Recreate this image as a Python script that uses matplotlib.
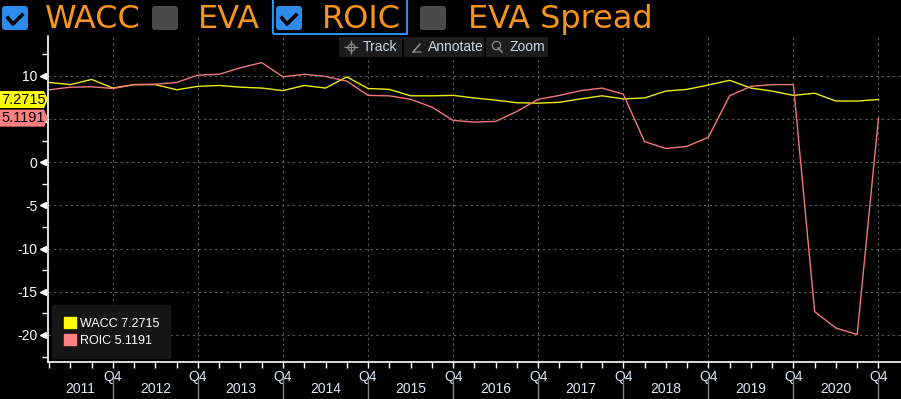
import numpy as np
import matplotlib
matplotlib.use("Agg")
import matplotlib.pyplot as plt
from matplotlib.patches import FancyBboxPatch, Rectangle, Polygon, Patch
from matplotlib.transforms import IdentityTransform, blended_transform_factory
from matplotlib.lines import Line2D

plt.rcParams['font.family'] = ['Liberation Sans', 'DejaVu Sans']
plt.rcParams['axes.unicode_minus'] = False

# quarterly data, 2011 Q1 .. 2020 Q4
years = list(range(2011, 2021))
quarters = np.arange(40)
wacc = [9.25, 9.0, 9.6, 8.6, 9.0, 9.0, 8.4, 8.8, 8.9, 8.7,
        8.6, 8.3, 8.9, 8.6, 9.9, 8.55, 8.45, 7.7, 7.7, 7.75,
        7.45, 7.2, 6.9, 6.85, 6.95, 7.35, 7.7, 7.35, 7.45, 8.25,
        8.45, 8.95, 9.5, 8.6, 8.25, 7.75, 8.0, 7.1, 7.1, 7.2715]
roic = [8.4, 8.7, 8.75, 8.55, 9.0, 9.05, 9.25, 10.1, 10.2, 10.95,
        11.55, 9.9, 10.2, 9.95, 9.4, 7.75, 7.7, 7.3, 6.4, 4.85,
        4.66, 4.74, 5.9, 7.3, 7.75, 8.3, 8.6, 7.9, 2.4, 1.6,
        1.85, 2.9, 7.7, 8.8, 9.0, 9.0, -17.3, -19.2, -19.95, 5.1191]
header = [("WACC", True), ("EVA", False), ("ROIC", True), ("EVA Spread", False)]
tools = ["Track", "Annotate", "Zoom"]

W, H = 901, 399
yellow = '#ffff00'
salmon = '#ff8080'
orange = '#f7941d'
pix = IdentityTransform()

fig = plt.figure(figsize=(W / 100, H / 100), dpi=100, facecolor='black')
ax = fig.add_axes([48 / W, (H - 362) / H, (W - 48) / W, (362 - 36) / H], facecolor='black')

ax.plot(quarters, wacc, color='#ecec10', lw=1.0)
ax.plot(quarters, roic, color='#f07878', lw=1.0)
ax.set_xlim(-0.05, 40.06)
ax.set_ylim(-23.13, 14.63)

# y axis (the 5 label sits under the ROIC tag, so it is left blank)
majors = list(range(-20, 11, 5))
ax.set_yticks(majors)
ax.set_yticklabels(['' if m == 5 else str(m) for m in majors])
ax.set_yticks(np.arange(-22.5, 14, 2.5), minor=True)
ax.tick_params(axis='y', which='major', length=0, pad=7.5, labelcolor='white', labelsize=10)
ax.tick_params(axis='y', which='minor', length=4, color='white', width=1)
bt = blended_transform_factory(ax.transAxes, ax.transData)
ax.plot([-0.0053] * len(majors), majors, ls='none', marker='<', ms=4.5, color='white',
        transform=bt, clip_on=False)

# x axis
q4 = [4 * k + 3 for k in range(len(years))]
ax.set_xticks(q4)
ax.set_xticklabels(["Q4"] * len(q4))
ax.set_xticks(quarters, minor=True)
ax.tick_params(axis='x', which='both', direction='out', length=4, color='white', width=1)
ax.tick_params(axis='x', which='major', labelcolor='#dce8f5', labelsize=10, pad=1.5)

ax.grid(True, which='major', color='#5c5c5c', ls=(0, (2, 3)), lw=0.8)
for s in ['top', 'right']:
    ax.spines[s].set_visible(False)
for s in ['left', 'bottom']:
    ax.spines[s].set_color('white')
    ax.spines[s].set_linewidth(1.2)

xt = blended_transform_factory(ax.transData, ax.transAxes)
ax.vlines(q4, -0.05, -0.12, transform=xt, colors='#808080', lw=1, clip_on=False)
lo, hi = ax.get_xlim()
for k, yr in enumerate(years):
    a = max(4 * k - 1, lo)
    b = min(4 * k + 3, hi)
    ax.text((a + b) / 2, -0.083, str(yr), transform=xt, ha='center', va='center',
            color='#dce8f5', fontsize=10)

# last value tags on the left
for val, col in [(wacc[-1], yellow), (roic[-1], salmon)]:
    yp = ax.transData.transform((0, val))[1]
    tag = Polygon([(0, yp - 8.5), (44, yp - 8.5), (48, yp), (44, yp + 8.5), (0, yp + 8.5)],
                  closed=True, facecolor=col, edgecolor='none', transform=pix, zorder=5)
    fig.add_artist(tag)
    fig.text(1.5, yp, f"{val:.4f}", transform=pix, ha='left', va='center',
             color='black', fontsize=10.5, zorder=6)

# legend
handles = [Patch(color=yellow, label=f"WACC {wacc[-1]:.4f}"),
           Patch(color=salmon, label=f"ROIC {roic[-1]:.4f}")]
leg = ax.legend(handles=handles, loc='lower left', bbox_to_anchor=(0.005, 0.012),
                borderaxespad=0, frameon=True, facecolor='#161616', edgecolor='#161616',
                framealpha=1, labelcolor='white', fontsize=9, handlelength=1.0,
                handleheight=1.0, handletextpad=0.3, borderpad=0.9, labelspacing=0.35)

# header checkboxes
box_x = [2, 152, 276, 420]
text_x = [45, 198, 322, 468]
for (name, on), bx, tx in zip(header, box_x, text_x):
    cb = FancyBboxPatch((bx, H - 30), 26, 24, boxstyle='round,pad=0,rounding_size=3',
                        facecolor='#2d8ceb' if on else '#4a4a4a', edgecolor='none',
                        transform=pix)
    fig.add_artist(cb)
    if on:
        fig.add_artist(Line2D([bx + 6, bx + 11, bx + 20], [H - 18, H - 24, H - 15],
                              color='black', lw=2.6, transform=pix))
    fig.text(tx, H - 28, name, transform=pix, ha='left', va='baseline',
             color=orange, fontsize=23, family='DejaVu Sans')
fig.add_artist(Rectangle((273, H - 34), 134, 36, facecolor='none', edgecolor='#2f8fe8',
                         lw=1.5, transform=pix))

# toolbar
tool_box = [(339, 63), (404, 80), (486, 62)]
for name, (x0, w) in zip(tools, tool_box):
    fig.add_artist(Rectangle((x0, H - 57), w, 20, facecolor='#1c1c1c', edgecolor='none',
                             transform=pix))
    fig.text(x0 + 24, H - 47, name, transform=pix, ha='left', va='center',
             color='#c9d6e3', fontsize=10)
ic = '#8a8a8a'
fig.add_artist(Line2D([351], [H - 47], marker='o', ms=5, mfc='none', mec=ic, mew=0.9, transform=pix))
fig.add_artist(Line2D([351], [H - 47], marker='+', ms=10, mec=ic, mew=0.9, transform=pix))
fig.add_artist(Line2D([413, 420, 413, 421], [H - 52, H - 44, H - 52, H - 52], color=ic, lw=0.9, transform=pix))
fig.add_artist(Line2D([496], [H - 45], marker='o', ms=6, mfc='none', mec=ic, mew=0.9, transform=pix))
fig.add_artist(Line2D([498, 502], [H - 48, H - 52], color=ic, lw=1.2, transform=pix))

fig.savefig("out.png", dpi=100, facecolor='black')
